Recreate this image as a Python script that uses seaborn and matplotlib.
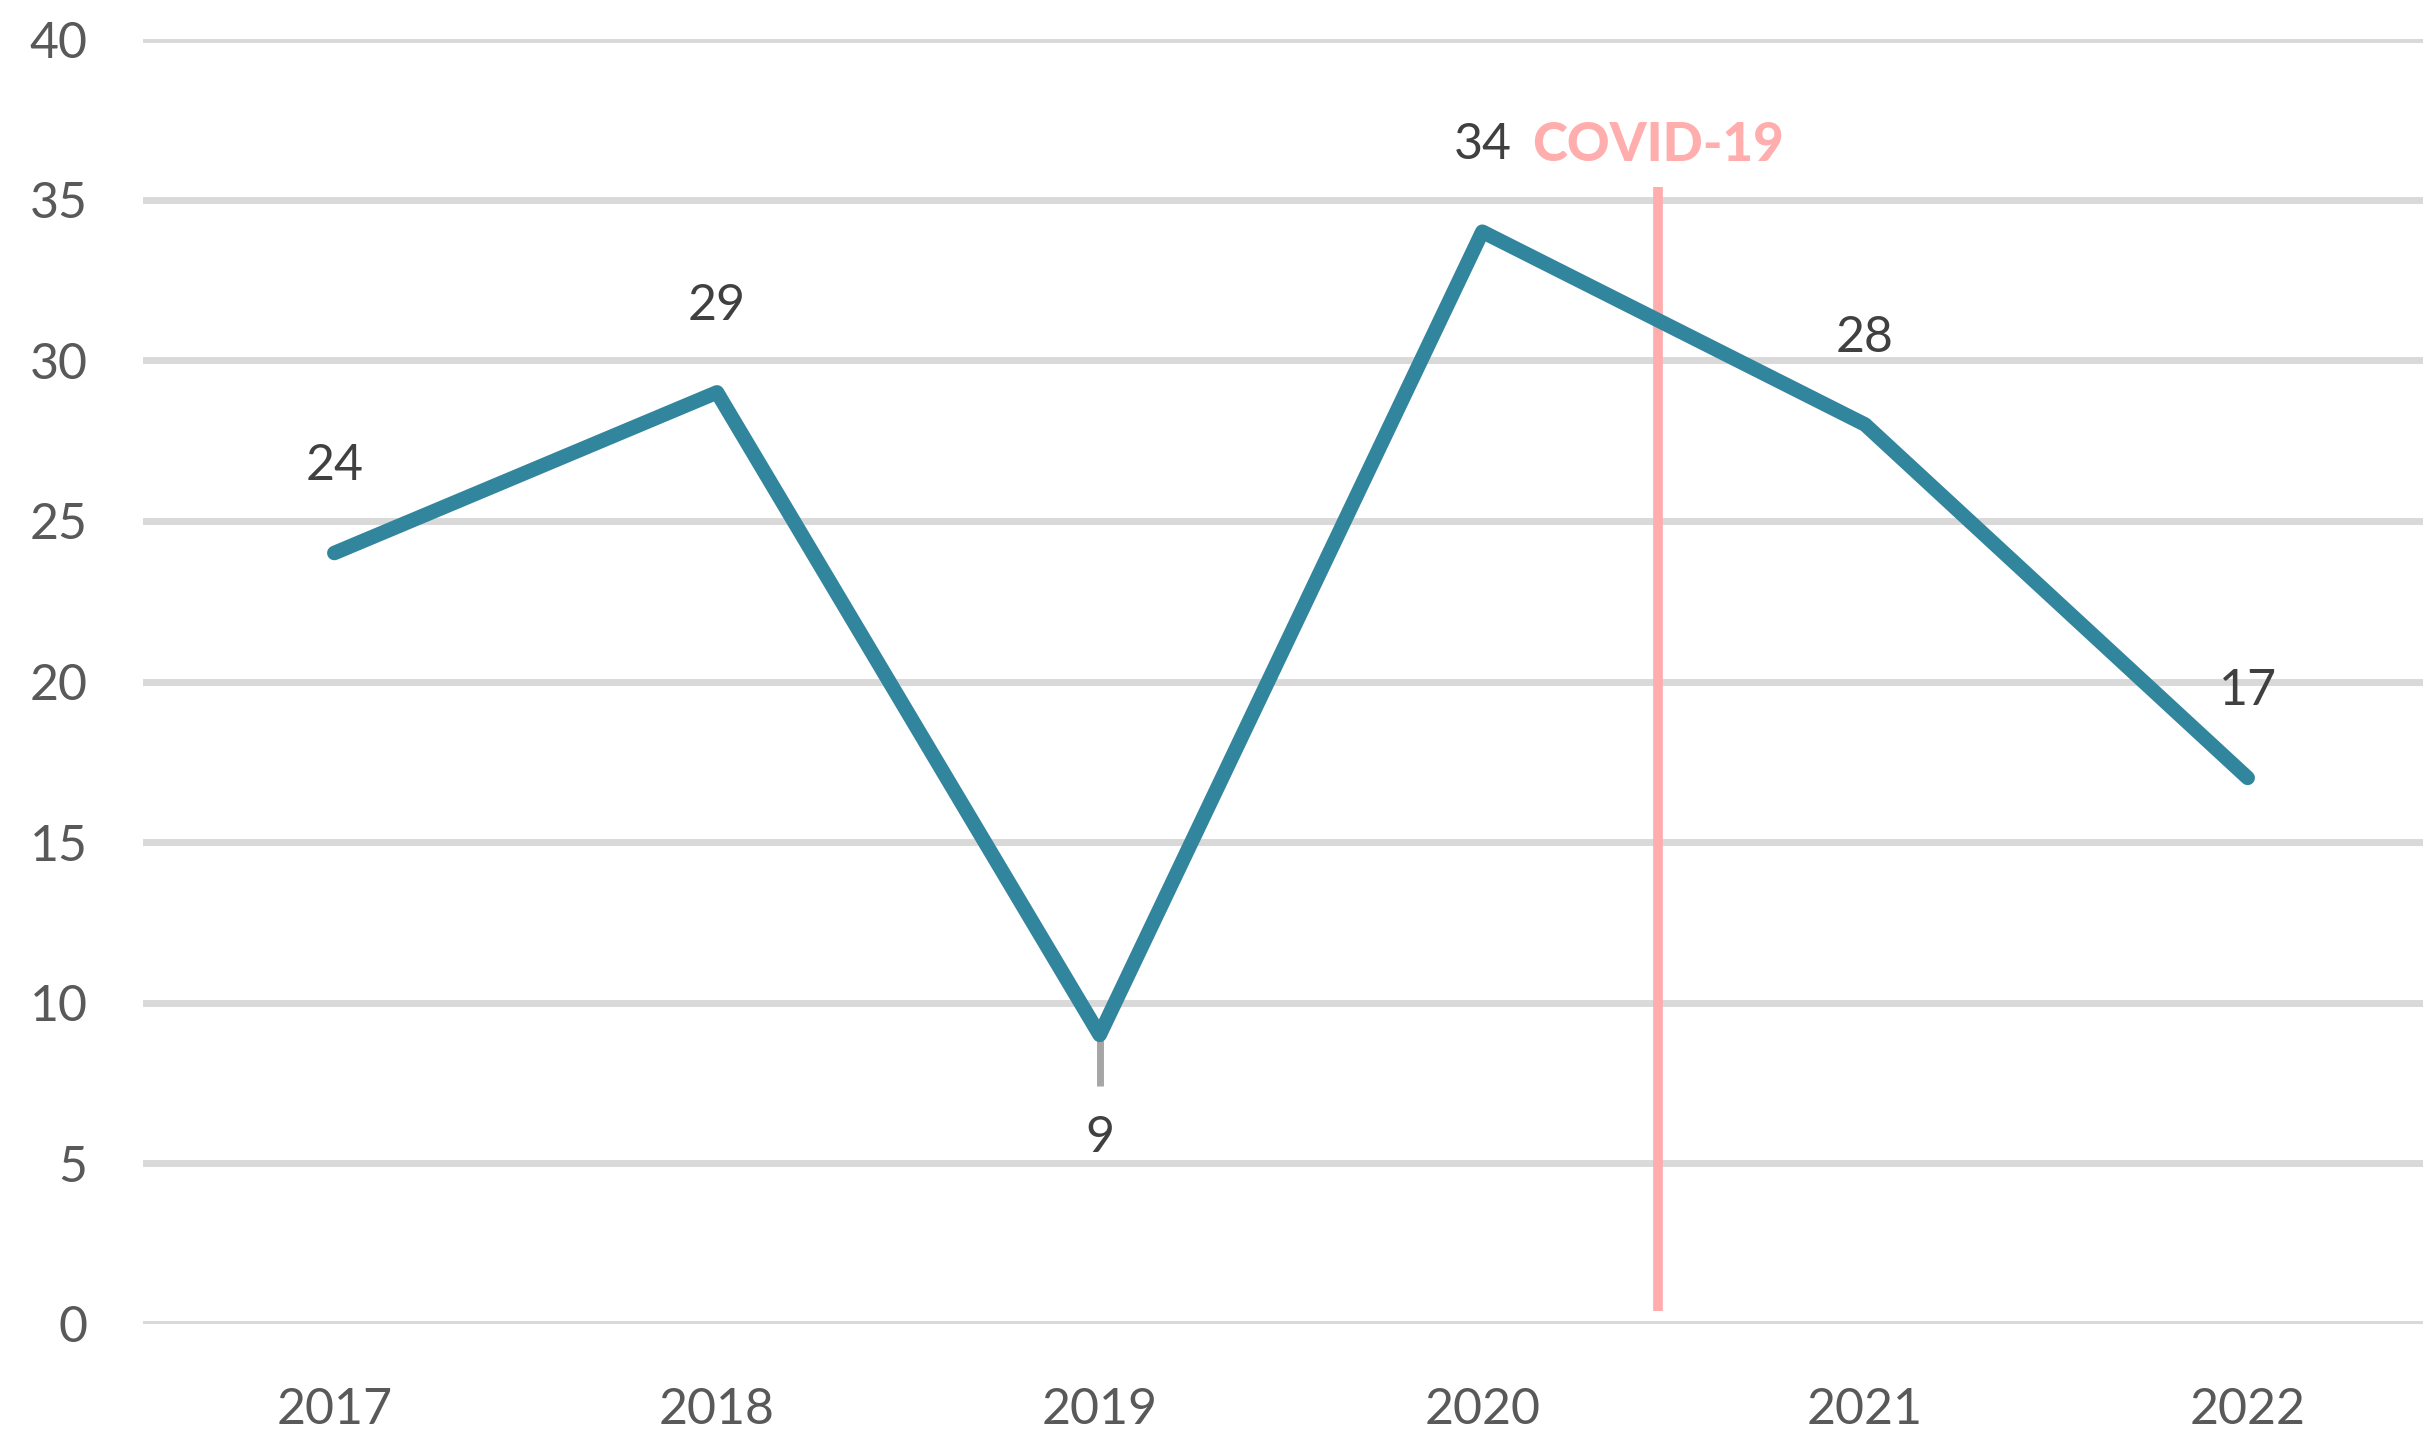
import pandas as pd
import matplotlib
matplotlib.use("Agg")
from matplotlib import pyplot as plt
import seaborn as sb

# data
years = [2017, 2018, 2019, 2020, 2021, 2022]
values = [24, 29, 9, 34, 28, 17]
# label placement: above, except 2019 which sits below with a leader line
label_side = ["above", "above", "below", "above", "above", "above"]
covid_x = 2020.46
covid_label = "COVID-19"

df = pd.DataFrame({"year": years, "value": values})

sb.set_style("white")
plt.rcParams['font.family'] = ['Lato', 'DejaVu Sans']

fig = plt.figure(figsize=(24.23, 14.36), dpi=100)
ax = fig.add_axes([143 / 2423, 112 / 1436, 2296 / 2423, 1285 / 1436])

# gridlines
for y in range(0, 41, 5):
    ax.axhline(y, color="#D9D9D9", lw=5, zorder=0)

# main line
sb.lineplot(data=df, x="year", y="value", ax=ax, color="#31859C", lw=10.5,
            solid_capstyle="round", solid_joinstyle="round", zorder=3)

# covid marker
ax.plot([covid_x, covid_x], [0.4, 35.4], color="#FFADAD", lw=7, zorder=2,
        solid_capstyle="butt")
ax.text(covid_x - 0.33, 36.7, covid_label, color="#FFADAD", fontsize=38,
        fontweight="black", ha="left", va="center", zorder=4)

# data labels
for yr, v, side in zip(years, values, label_side):
    if side == "above":
        ax.text(yr, v + 2.7, str(v), ha="center", va="center", fontsize=36,
                color="#404040", zorder=4)
    else:
        ax.plot([yr, yr], [v + 0.05, v - 1.6], color="#A6A6A6", lw=5, zorder=2,
                solid_capstyle="butt")
        ax.text(yr, v - 3.2, str(v), ha="center", va="center", fontsize=36,
                color="#404040", zorder=4)

ax.set_xlim(2016.5, 2022.5)
ax.set_ylim(0, 40)
ax.set_xticks(years)
ax.set_xticklabels([str(y) for y in years])
ax.set_yticks(range(0, 41, 5))
ax.tick_params(axis="both", length=0, labelsize=36, labelcolor="#595959")
ax.tick_params(axis="y", pad=40)
ax.tick_params(axis="x", pad=45)
ax.set_xlabel("")
ax.set_ylabel("")
sb.despine(ax=ax, left=True, bottom=True)
ax.patch.set_alpha(0)

plt.savefig("out.png", dpi=100)
plt.close()
